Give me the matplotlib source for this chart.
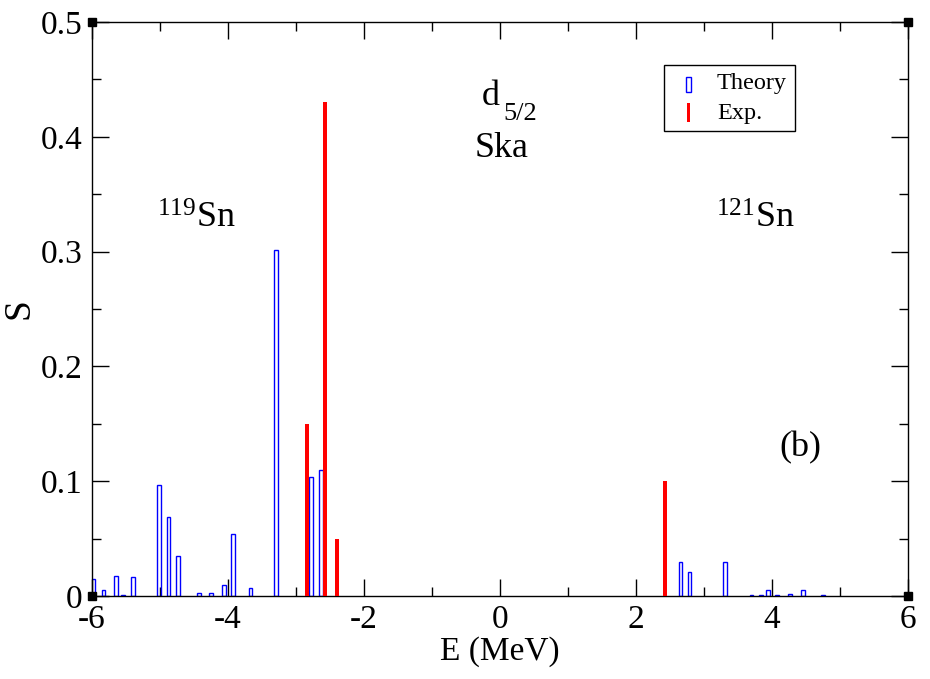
import matplotlib
matplotlib.use("Agg")
import matplotlib.pyplot as plt
from matplotlib.patches import Rectangle

# theory strengths (blue open bars)
theory_e = [-5.99, -5.83, -5.65, -5.54, -5.40, -5.02, -4.875, -4.74, -4.43, -4.245,
            -4.055, -3.93, -3.67, -3.29, -2.775, -2.628,
            2.654, 2.787, 3.314, 3.70, 3.84, 3.945, 4.076, 4.267, 4.46, 4.755]
theory_s = [0.0145, 0.005, 0.0174, 0.001, 0.0165, 0.0967, 0.0688, 0.0348, 0.0026, 0.0026,
            0.0096, 0.054, 0.007, 0.301, 0.104, 0.1095,
            0.0293, 0.0206, 0.030, 0.001, 0.001, 0.005, 0.001, 0.0015, 0.005, 0.001]

# experimental strengths (red bars)
exp_e = [-2.84, -2.57, -2.40, 2.42]
exp_s = [0.15, 0.43, 0.05, 0.10]

xticks = [-6, -4, -2, 0, 2, 4, 6]
yticks = [0, 0.1, 0.2, 0.3, 0.4, 0.5]

plt.rcParams['font.family'] = ['Liberation Serif', 'DejaVu Serif']
plt.rcParams['mathtext.default'] = 'regular'
plt.rcParams['axes.unicode_minus'] = False

fig = plt.figure(figsize=(9.3, 6.79), dpi=100)
ax = fig.add_axes([92/930, 1-596/679, 816/930, 574/679])

ax.bar(theory_e, theory_s, width=0.055, fill=False, edgecolor='#0000ff', linewidth=1.0, zorder=2)
ax.bar(exp_e, exp_s, width=0.06, color='#ff0000', linewidth=0, zorder=3)

ax.set_xlim(-6, 6)
ax.set_ylim(0, 0.5)
ax.set_xticks(xticks)
ax.set_yticks(yticks)
ax.set_yticklabels(['0', '0.1', '0.2', '0.3', '0.4', '0.5'])
ax.set_xticks([-5, -3, -1, 1, 3, 5], minor=True)
ax.set_yticks([0.05, 0.15, 0.25, 0.35, 0.45], minor=True)
ax.tick_params(which='both', direction='in', top=True, right=True, width=1.0, labelsize=24)
ax.tick_params(which='major', length=12)
ax.tick_params(which='minor', length=6.5)
ax.tick_params(axis='x', pad=6)
ax.tick_params(axis='y', pad=7)
for sp in ax.spines.values():
    sp.set_linewidth(1.0)

ax.set_xlabel('E (MeV)', fontsize=24, labelpad=1)
ax.set_ylabel('S', fontsize=27, labelpad=3)

# corner squares
ax.plot([0, 1, 0, 1], [0, 0, 1, 1], 's', color='black', markersize=6,
        transform=ax.transAxes, clip_on=False, zorder=5)

# d_5/2 drawn as two pieces, subscript bigger and lower than mathtext gives
ax.text(-0.27, 0.428, 'd', fontsize=26, ha='left')
ax.text(0.05, 0.415, '5/2', fontsize=19, ha='left')
ax.text(0.02, 0.382, 'Ska', fontsize=26, ha='center')
ax.text(-4.46, 0.3206, r'$^{119}$Sn', fontsize=26, ha='center')
ax.text(3.75, 0.3206, r'$^{121}$Sn', fontsize=26, ha='center')
ax.text(4.41, 0.122, '(b)', fontsize=26, ha='center')

# legend box
ax.add_patch(Rectangle((0.701, 0.810), 0.161, 0.115, transform=ax.transAxes,
                       fill=False, edgecolor='black', linewidth=1.0, zorder=4))
ax.add_patch(Rectangle((0.728, 0.8775), 0.0058, 0.027, transform=ax.transAxes,
                       fill=False, edgecolor='#0000ff', linewidth=1.0, zorder=4))
ax.add_patch(Rectangle((0.7295, 0.826), 0.0036, 0.033, transform=ax.transAxes,
                       color='#ff0000', linewidth=0, zorder=4))
ax.text(0.766, 0.893, 'Theory', fontsize=17.5, va='center', transform=ax.transAxes)
ax.text(0.766, 0.841, 'Exp.', fontsize=17.5, va='center', transform=ax.transAxes)

fig.savefig('out.png', dpi=100)
